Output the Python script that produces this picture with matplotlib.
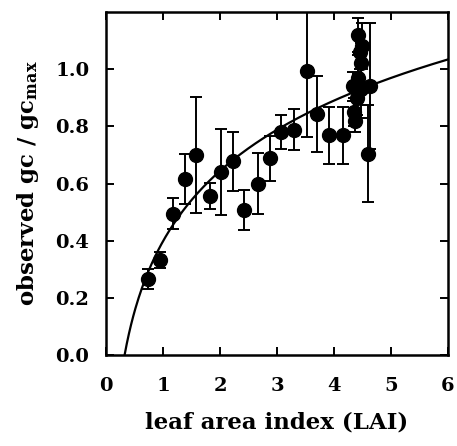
import numpy as np
import matplotlib
matplotlib.use("Agg")
import matplotlib.pyplot as plt

# observed points (LAI, gc/gcmax, error)
LAI = [0.73, 0.95, 1.18, 1.38, 1.58, 1.82, 2.02, 2.22, 2.42, 2.67, 2.87,
       3.07, 3.30, 3.52, 3.71, 3.91, 4.16,
       4.33, 4.35, 4.37, 4.40, 4.42, 4.43, 4.45, 4.47, 4.48, 4.50,
       4.60, 4.63]
GC = [0.266, 0.332, 0.495, 0.615, 0.70, 0.557, 0.641, 0.678, 0.509, 0.60, 0.688,
      0.781, 0.789, 0.994, 0.843, 0.769, 0.769,
      0.94, 0.85, 0.82, 0.90, 0.97, 1.12, 1.06, 1.02, 0.93, 1.08,
      0.705, 0.94]
ERR = [0.035, 0.028, 0.053, 0.088, 0.204, 0.046, 0.15, 0.103, 0.07, 0.107, 0.08,
       0.06, 0.072, 0.23, 0.133, 0.10, 0.10,
       0.05, 0.05, 0.04, 0.06, 0.08, 0.06, 0.06, 0.07, 0.10, 0.08,
       0.17, 0.22]

# fitted curve: gc/gcmax = A*ln(LAI) + B
FIT_A = 0.355
FIT_B = 0.398

X_TICKS = [0, 1, 2, 3, 4, 5, 6]
Y_TICKS = [0.0, 0.2, 0.4, 0.6, 0.8, 1.0]

FONT = "DejaVu Serif"
plt.rcParams["mathtext.fontset"] = "dejavuserif"

fig = plt.figure(figsize=(4.57, 4.46), dpi=100)
ax = fig.add_axes([0.232, 0.204, 0.748, 0.769])

x0 = np.exp(-FIT_B / FIT_A)
xf = np.linspace(x0, 6, 300)
ax.plot(xf, FIT_A * np.log(xf) + FIT_B, color="black", lw=1.6, zorder=2)

ax.errorbar(LAI, GC, yerr=ERR, fmt="o", color="black", ms=10,
            elinewidth=1.4, capsize=4, capthick=1.4, zorder=3)

ax.set_xlim(0, 6)
ax.set_ylim(0, 1.2)
ax.set_xticks(X_TICKS)
ax.set_yticks(Y_TICKS)
ax.set_yticklabels([f"{v:.1f}" for v in Y_TICKS])
ax.tick_params(direction="in", length=6, width=1.4, top=True, right=True,
               labelsize=14)
ax.tick_params(axis="x", pad=16)
ax.tick_params(axis="y", pad=12)
for lab in ax.get_xticklabels() + ax.get_yticklabels():
    lab.set_fontfamily(FONT)
    lab.set_fontweight("bold")
for s in ax.spines.values():
    s.set_linewidth(1.8)

ax.set_xlabel("leaf area index (LAI)", fontsize=16.5, fontfamily=FONT,
              fontweight="bold", labelpad=12)
ax.set_ylabel(r"observed gc / gc$_{\mathbf{max}}$", fontsize=16.5, fontfamily=FONT,
              fontweight="bold", labelpad=10)

fig.savefig("out.png", dpi=100)
